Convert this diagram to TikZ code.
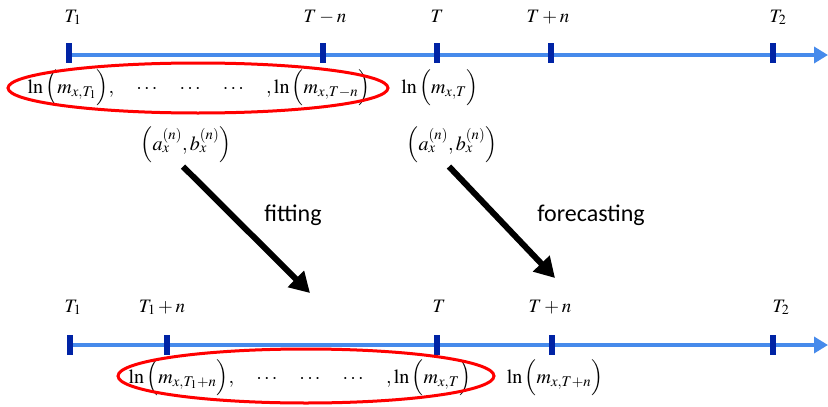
\documentclass[tikz,border=0pt]{standalone}
\usepackage{amsmath}
\usepackage{mathptmx}
\usepackage[no-math]{fontspec}
\newfontfamily\labelfont{Carlito}
\usetikzlibrary{arrows.meta}
\definecolor{axisblue}{RGB}{70,138,235}
\definecolor{tickblue}{RGB}{0,35,165}

\begin{document}
\begin{tikzpicture}[x=1pt, y=-1pt,
  axis/.style={axisblue, line width=4.5pt, -{Triangle[length=14pt, width=16pt]}},
  tickbar/.style={tickblue, line width=6pt},
  ring/.style={red, line width=3pt},
  pusharrow/.style={line width=6pt, -{Triangle[length=20pt, width=22pt]}},
  tlabel/.style={anchor=base, font=\fontsize{19}{22}\selectfont},
  series/.style={font=\fontsize{20}{24}\selectfont},
  caption/.style={font=\labelfont\fontsize{24}{28}\selectfont}]
  \useasboundingbox (0,0) rectangle (828,407);

  % upper line: fit on T_1 ... T-n, then check at T
  \coordinate (up0) at (69,55);
  \coordinate (upEnd) at (828,55);
  \draw[axis] (up0) -- (upEnd);
  \foreach \x in {69, 323, 437, 551, 773}
    \draw[tickbar] (\x,43) -- (\x,63);

  \node[tlabel] (upT1)  at (73,22)  {$T_1$};
  \node[tlabel] (upTmn) at (325,22) {$T-n$};
  \node[tlabel] (upT)   at (437,22) {$T$};
  \node[tlabel] (upTpn) at (548,22) {$T+n$};
  \node[tlabel] (upT2)  at (778,22) {$T_2$};

  \node[series] (upset) at (199,88)
    {$\ln\Big(m_{x,T_1}\Big),\quad\cdots\quad\cdots\quad\cdots\quad,\ln\Big(m_{x,T-n}\Big)$};
  \node[series] (upobs) at (440,88) {$\ln\Big(m_{x,T}\Big)$};
  \draw[ring] (198,88) ellipse [x radius=190, y radius=25];

  % parameters and the two steps
  \node[series] (parfit) at (186,145) {$\Big(a_x^{(n)},b_x^{(n)}\Big)$};
  \node[series] (parfc)  at (452,145) {$\Big(a_x^{(n)},b_x^{(n)}\Big)$};
  \coordinate (fitend) at (310,293);
  \coordinate (fcend)  at (555,278);
  \draw[pusharrow] ([xshift=-3pt]parfit.south) -- (fitend);
  \draw[pusharrow] ([xshift=-3pt]parfc.south) -- (fcend);
  \node[caption] (fitlbl) at (293,215) {fitting};
  \node[caption] (fclbl)  at (591,215) {forecasting};

  % lower line: shifted window T_1+n ... T, target T+n
  \coordinate (lo0) at (70,345);
  \coordinate (loEnd) at (828,345);
  \draw[axis] (lo0) -- (loEnd);
  \foreach \x in {70, 167, 437, 552, 773}
    \draw[tickbar] (\x,335) -- (\x,355);

  \node[tlabel] (loT1)  at (73,312)  {$T_1$};
  \node[tlabel] (loT1n) at (162,312) {$T_1+n$};
  \node[tlabel] (loT)   at (439,312) {$T$};
  \node[tlabel] (loTpn) at (550,312) {$T+n$};
  \node[tlabel] (loT2)  at (781,312) {$T_2$};

  \node[series] (loset) at (300,378)
    {$\ln\Big(m_{x,T_1+n}\Big),\quad\cdots\quad\cdots\quad\cdots\quad,\ln\Big(m_{x,T}\Big)$};
  \node[series] (loobs) at (555,378) {$\ln\Big(m_{x,T+n}\Big)$};
  \draw[ring] (306,376) ellipse [x radius=188, y radius=27];
\end{tikzpicture}
\end{document}
